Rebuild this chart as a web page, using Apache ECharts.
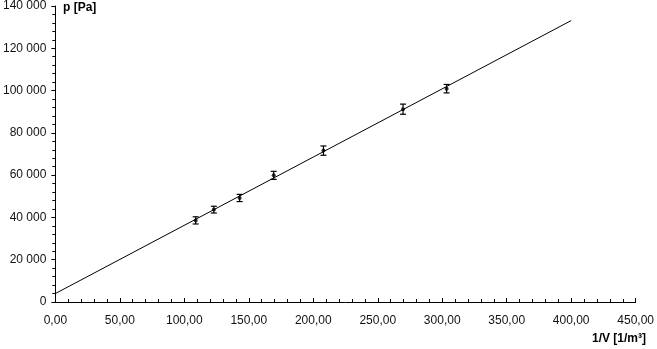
<!DOCTYPE html>
<html>
<head>
<meta charset="utf-8">
<script src="https://cdn.jsdelivr.net/npm/echarts@6/dist/echarts.min.js"></script>
<style>
html,body{margin:0;padding:0;background:#fff;}
#chart{width:657px;height:349px;}
</style>
</head>
<body>
<div id="chart"></div>
<script>
// Measured points: 1/V [1/m^3] vs p [Pa]
var invV = [108.8, 122.9, 142.9, 169.3, 207.9, 269.6, 303.4];
var pressure = [38600, 43700, 49200, 59900, 71600, 91200, 100900];
var pressureErr = [1700, 1600, 1700, 1900, 2200, 2400, 2000];
// Fit line end points
var fitX = [0, 400];
var fitY = [4000, 133100];
var xName = '1/V [1/m\u00B3]';
var yName = 'p [Pa]';

var chart = echarts.init(document.getElementById('chart'));
var font = '"Liberation Sans", Arial, Helvetica, sans-serif';

var pts = invV.map(function (x, i) { return [x, pressure[i]]; });
var errData = invV.map(function (x, i) { return [x, pressure[i] - pressureErr[i], pressure[i] + pressureErr[i]]; });
var fitData = fitX.map(function (x, i) { return [x, fitY[i]]; });

function fmtY(v) {
  var s = String(Math.round(v));
  return s.replace(/\B(?=(\d{3})+(?!\d))/g, ' ');
}

chart.setOption({
  animation: false,
  backgroundColor: '#fff',
  grid: { left: 52, right: 19, top: 5, bottom: 47, containLabel: false },
  xAxis: {
    type: 'value', min: 0, max: 450, interval: 50,
    axisLine: { lineStyle: { color: '#000', width: 1 } },
    axisTick: { show: true, inside: true, length: 4, lineStyle: { color: '#000' } },
    minorTick: { show: true, splitNumber: 5, length: 3, lineStyle: { color: '#000' } },
    splitLine: { show: false },
    axisLabel: { color: '#111', fontFamily: font, fontSize: 12, margin: 13,
      formatter: function (v) { return v.toFixed(2).replace('.', ','); } }
  },
  yAxis: {
    type: 'value', min: 0, max: 140000, interval: 20000,
    axisLine: { show: true, lineStyle: { color: '#000', width: 1 } },
    axisTick: { show: true, inside: false, length: 4, lineStyle: { color: '#000' } },
    minorTick: { show: true, splitNumber: 5, length: 3, lineStyle: { color: '#000' } },
    splitLine: { show: false },
    axisLabel: { color: '#111', fontFamily: font, fontSize: 12, margin: 9, formatter: fmtY }
  },
  graphic: [
    { type: 'text', left: 63, top: 2, style: { text: yName, font: 'bold 12px ' + font, fill: '#000' } },
    { type: 'text', right: 11, top: 333, style: { text: xName, font: 'bold 12px ' + font, fill: '#000' } }
  ],
  series: [
    {
      type: 'line', data: fitData, symbol: 'none',
      lineStyle: { color: '#000', width: 1 }, z: 2
    },
    {
      type: 'custom', data: errData, z: 3,
      renderItem: function (params, api) {
        var x = api.value(0);
        var lo = api.coord([x, api.value(1)]);
        var hi = api.coord([x, api.value(2)]);
        var hw = 3;
        var st = { stroke: '#000', lineWidth: 1.2 };
        return { type: 'group', children: [
          { type: 'line', shape: { x1: lo[0], y1: lo[1], x2: hi[0], y2: hi[1] }, style: st },
          { type: 'line', shape: { x1: lo[0] - hw, y1: lo[1], x2: lo[0] + hw, y2: lo[1] }, style: st },
          { type: 'line', shape: { x1: hi[0] - hw, y1: hi[1], x2: hi[0] + hw, y2: hi[1] }, style: st }
        ]};
      },
      encode: { x: 0, y: [1, 2] }
    },
    {
      type: 'scatter', data: pts, symbol: 'circle', symbolSize: 4,
      itemStyle: { color: '#000' }, z: 4
    }
  ]
});
</script>
</body>
</html>
